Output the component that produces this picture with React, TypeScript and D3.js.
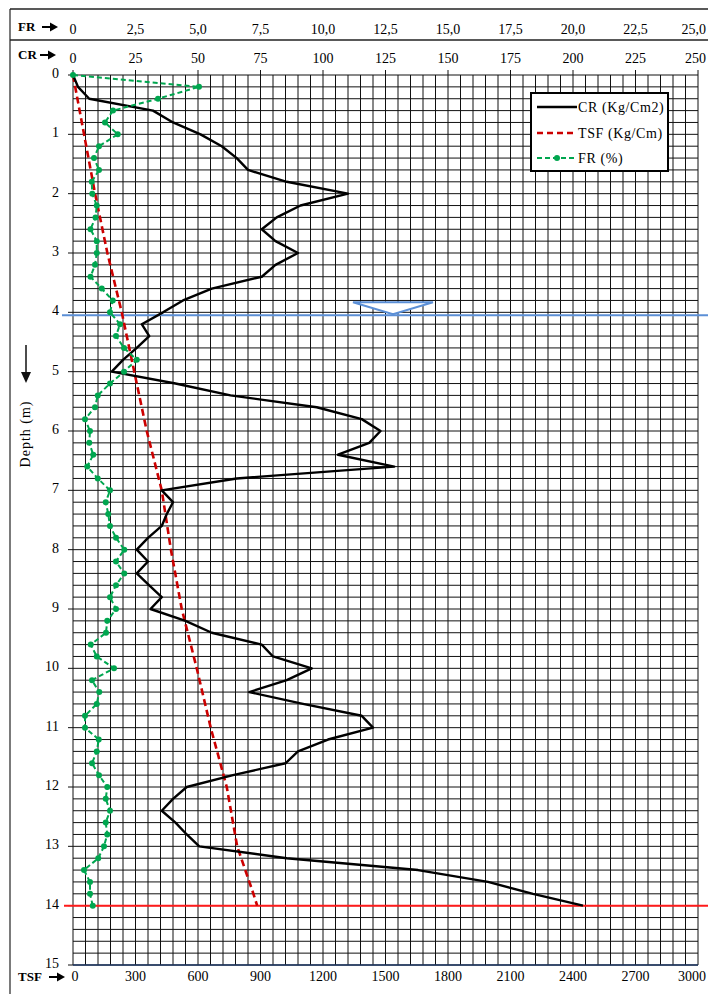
import React from "react";
import * as d3 from "d3";

// depth of every reading (m)
const depths = [
  0, 0.2, 0.4, 0.6, 0.8, 1, 1.2, 1.4, 1.6, 1.8, 2, 2.2, 2.4, 2.6, 2.8, 3, 3.2, 3.4, 3.6, 3.8,
  4, 4.2, 4.4, 4.6, 4.8, 5, 5.2, 5.4, 5.6, 5.8, 6, 6.2, 6.4, 6.6, 6.8, 7, 7.2, 7.4, 7.6, 7.8,
  8, 8.2, 8.4, 8.6, 8.8, 9, 9.2, 9.4, 9.6, 9.8, 10, 10.2, 10.4, 10.6, 10.8, 11, 11.2, 11.4, 11.6, 11.8,
  12, 12.2, 12.4, 12.6, 12.8, 13, 13.2, 13.4, 13.6, 13.8, 14,
];

// cone resistance (Kg/Cm2)
const crValues = [
  0, 2, 6.5, 32, 40, 51, 59.5, 65.5, 70, 85.5, 110, 91, 81.5, 75.5, 81, 90, 81, 75.5, 55.5, 44,
  36, 27.5, 30.5, 25.5, 20, 15.5, 41, 63, 97.5, 115.5, 123, 118.5, 106, 128.5, 65.5, 35.5, 40, 37.5, 35.5, 30,
  25.5, 30, 25.5, 30.5, 35.5, 31, 45, 55.5, 75.5, 80, 95.5, 85.5, 70.5, 92, 115.5, 120, 102, 90, 85, 64,
  45.5, 40, 35.5, 41, 45.5, 50.5, 85.5, 138, 166, 184, 204,
];

// friction ratio (%)
const frValues = [
  0, 5.04, 3.4, 1.6, 1.28, 1.79, 1.04, 0.84, 1.04, 0.75, 0.77, 0.95, 0.9, 0.7, 0.95, 0.95, 0.88, 0.7, 1.15, 1.59,
  1.48, 1.88, 1.72, 2.04, 2.55, 2.04, 1.48, 0.99, 0.88, 0.48, 0.68, 0.65, 0.81, 0.57, 0.99, 1.48, 1.31, 1.41, 1.48, 1.72,
  2.05, 1.72, 2.05, 1.72, 1.48, 1.72, 1.37, 1.32, 0.71, 0.95, 1.64, 0.76, 1.05, 0.95, 0.48, 0.48, 1.03, 0.95, 0.76, 1.04,
  1.37, 1.31, 1.48, 1.31, 1.37, 1.24, 1.01, 0.44, 0.68, 0.68, 0.79,
];

// total sleeve friction (Kg/Cm)
const tsfDepths = [0, 1, 2, 3, 4, 5, 6, 7, 8, 9, 10, 11, 12, 13, 13.8, 14];
const tsfValues = [0, 53, 106, 165, 234, 294, 354, 426, 470, 522, 594, 661, 738, 788, 866, 884];

const frTicks = ["0", "2,5", "5,0", "7,5", "10,0", "12,5", "15,0", "17,5", "20,0", "22,5", "25,0"];
const crTicks = [0, 25, 50, 75, 100, 125, 150, 175, 200, 225, 250];
const tsfTicks = [0, 300, 600, 900, 1200, 1500, 1800, 2100, 2400, 2700, 3000];
const depthTicks = [0, 1, 2, 3, 4, 5, 6, 7, 8, 9, 10, 11, 12, 13, 14, 15];

const waterDepth = 4.05;
const endDepth = 14;

const W = 708;
const H = 994;
const font = "'Liberation Serif', 'Times New Roman', serif";

// small bold arrow pointing right, used next to axis names
const Arrow = ({ x0, yy }: { x0: number; yy: number }) => (
  <g>
    <line x1={x0} x2={x0 + 10} y1={yy} y2={yy} stroke="#000" strokeWidth={2} />
    <path d={`M${x0 + 8},${yy - 4.5} L${x0 + 16},${yy} L${x0 + 8},${yy + 4.5} Z`} fill="#000" />
  </g>
);

export default function App() {
  const x = d3.scaleLinear().domain([0, 250]).range([73, 698]);
  const xFR = d3.scaleLinear().domain([0, 25]).range([73, 698]);
  const xTSF = d3.scaleLinear().domain([0, 3000]).range([73, 698]);
  const y = d3.scaleLinear().domain([0, 15]).range([75, 965]);

  const crLine = d3.line<number>().x((v) => x(v)).y((_, i) => y(depths[i]));
  const frLine = d3.line<number>().x((v) => xFR(v)).y((_, i) => y(depths[i]));
  const tsfLine = d3.line<number>().x((v) => xTSF(v)).y((_, i) => y(tsfDepths[i]));

  const vGrid = d3.range(0, 251, 5);
  const hGrid = d3.range(0, 75.5).map((k) => k * 0.2);

  const wy = y(waterDepth);
  const tri = [
    [x(112), wy - 13],
    [x(144), wy - 13],
    [x(128), wy - 1],
  ];

  // last label on each axis is pulled in so it stays inside the page
  const anchorFor = (i: number, n: number) => (i === n - 1 ? "end" : "middle");
  const shiftFor = (i: number, n: number) => (i === n - 1 ? 8 : 0);

  return (
    <svg
      width={W}
      height={H}
      style={{ position: "absolute", left: 0, top: 0, background: "#fff" }}
      fontFamily={font}
    >
      {/* frame lines */}
      <line x1={10} x2={W} y1={9} y2={9} stroke="#222" strokeWidth={1.5} />
      <line x1={10} x2={W} y1={40} y2={40} stroke="#222" strokeWidth={1.5} />
      <line x1={10} x2={10} y1={9} y2={H} stroke="#222" strokeWidth={1.2} />

      {/* grid */}
      <g stroke="#111" strokeWidth={1}>
        {vGrid.map((v) => (
          <line key={"v" + v} x1={x(v)} x2={x(v)} y1={y(0)} y2={y(15)} />
        ))}
        {hGrid.map((d) => (
          <line key={"h" + d} x1={x(0)} x2={x(250)} y1={y(d)} y2={y(d)} />
        ))}
      </g>
      <line x1={x(0)} x2={x(250)} y1={y(15)} y2={y(15)} stroke="#1f3864" strokeWidth={1.5} />

      {/* ticks */}
      <g stroke="#111" strokeWidth={1}>
        {crTicks.map((v) => (
          <line key={"t" + v} x1={x(v)} x2={x(v)} y1={y(0) - 5} y2={y(0)} />
        ))}
        {depthTicks.map((d) => (
          <line key={"dt" + d} x1={x(0) - 5} x2={x(0)} y1={y(d)} y2={y(d)} />
        ))}
      </g>

      {/* top axes */}
      <text x={18} y={31} fontSize={13} fontWeight="bold">FR</text>
      <Arrow x0={42} yy={27} />
      <text x={18} y={59} fontSize={13} fontWeight="bold">CR</text>
      <Arrow x0={40} yy={55} />
      {frTicks.map((t, i) => (
        <text
          key={"fr" + t}
          x={xFR(i * 2.5) + shiftFor(i, frTicks.length)}
          y={34}
          fontSize={14}
          textAnchor={anchorFor(i, frTicks.length)}
        >
          {t}
        </text>
      ))}
      {crTicks.map((v, i) => (
        <text
          key={"cr" + v}
          x={x(v) + shiftFor(i, crTicks.length)}
          y={63}
          fontSize={14}
          textAnchor={anchorFor(i, crTicks.length)}
        >
          {v}
        </text>
      ))}

      {/* bottom axis */}
      <text x={18} y={981} fontSize={13} fontWeight="bold">TSF</text>
      <Arrow x0={49} yy={977} />
      {tsfTicks.map((v, i) => (
        <text
          key={"tsf" + v}
          x={i === 0 ? xTSF(v) + 2 : xTSF(v) + shiftFor(i, tsfTicks.length)}
          y={981}
          fontSize={14}
          textAnchor={anchorFor(i, tsfTicks.length)}
        >
          {v}
        </text>
      ))}

      {/* depth axis */}
      {depthTicks.map((d) => (
        <text key={"d" + d} x={59} y={y(d) + 3} fontSize={14} textAnchor="end">
          {d}
        </text>
      ))}
      <text
        transform={`translate(30, ${y(6.05)}) rotate(-90)`}
        fontSize={14}
        textAnchor="middle"
        letterSpacing={1}
      >
        Depth (m)
      </text>
      <line x1={26} x2={26} y1={345} y2={376} stroke="#111" strokeWidth={1.5} />
      <path d="M21,372 L31,372 L26,383 Z" fill="#111" />

      {/* water table and end of test */}
      <line x1={62} x2={W} y1={wy} y2={wy} stroke="#5b8fd6" strokeWidth={2} />
      <polygon
        points={tri.map((p) => p.join(",")).join(" ")}
        fill="#fff"
        stroke="#5b8fd6"
        strokeWidth={2}
      />
      <line x1={64} x2={W} y1={y(endDepth)} y2={y(endDepth)} stroke="#ff1a1a" strokeWidth={2} />

      {/* series */}
      <path d={tsfLine(tsfValues) || ""} fill="none" stroke="#cc0000" strokeWidth={2.6} strokeDasharray="7,4" />
      <path d={crLine(crValues) || ""} fill="none" stroke="#000" strokeWidth={2.4} strokeLinejoin="round" />
      <path d={frLine(frValues) || ""} fill="none" stroke="#00a64f" strokeWidth={2} strokeDasharray="5,3" />
      {frValues.map((v, i) => (
        <circle key={"fp" + i} cx={xFR(v)} cy={y(depths[i])} r={3} fill="#00a64f" />
      ))}

      {/* legend */}
      <g>
        <rect x={531} y={93} width={137} height={78} fill="#fff" stroke="#000" strokeWidth={2} />
        <line x1={537} x2={577} y1={107} y2={107} stroke="#000" strokeWidth={2.5} />
        <text x={578} y={112} fontSize={14} letterSpacing={0.6}>CR (Kg/Cm2)</text>
        <line x1={537} x2={577} y1={133} y2={133} stroke="#cc0000" strokeWidth={2.5} strokeDasharray="6,4" />
        <text x={578} y={138} fontSize={14} letterSpacing={0.6}>TSF (Kg/Cm)</text>
        <line x1={537} x2={577} y1={158} y2={158} stroke="#00a64f" strokeWidth={2} strokeDasharray="5,3" />
        <circle cx={557} cy={158} r={3} fill="#00a64f" />
        <text x={578} y={163} fontSize={14} letterSpacing={0.6}>FR (%)</text>
      </g>
    </svg>
  );
}
